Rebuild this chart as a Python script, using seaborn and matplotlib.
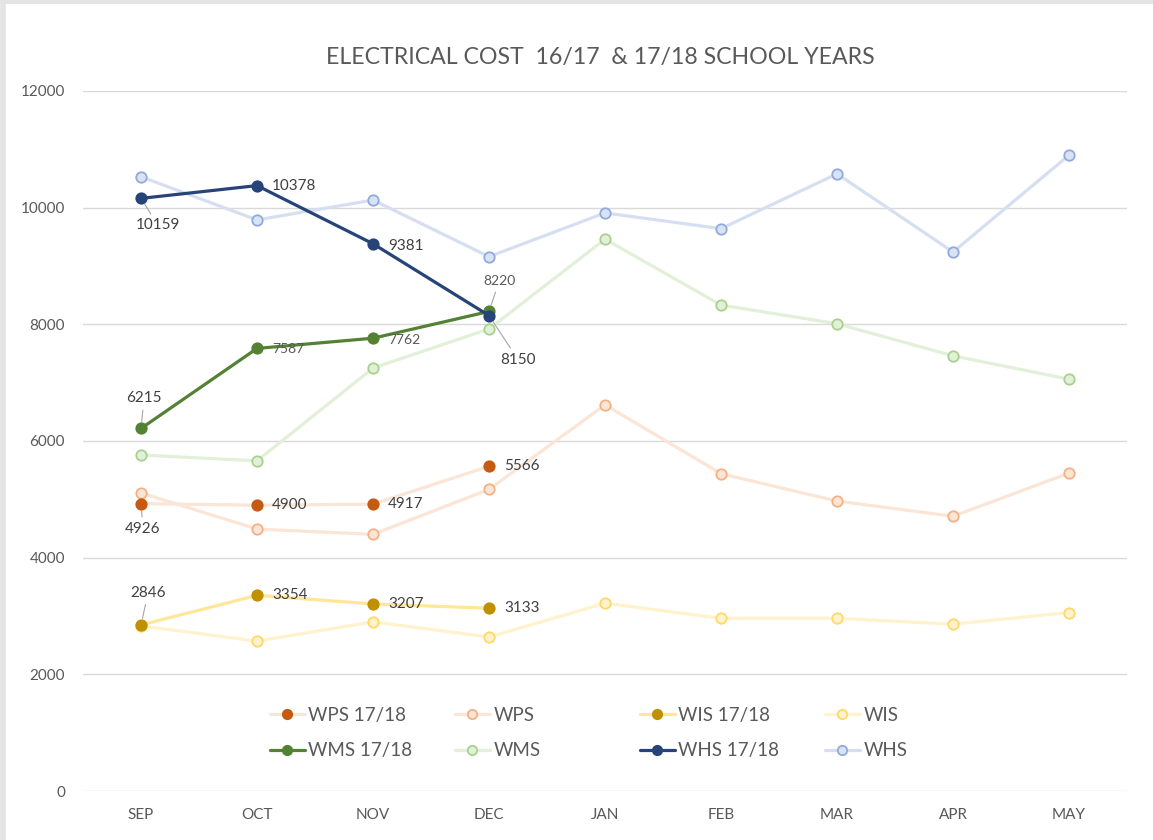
import numpy as np
import pandas as pd
import matplotlib
matplotlib.use("Agg")
import matplotlib.pyplot as plt
import seaborn as sns

months = ['SEP', 'OCT', 'NOV', 'DEC', 'JAN', 'FEB', 'MAR', 'APR', 'MAY']

# 16/17 school year
whs_1617 = [10530, 9790, 10130, 9160, 9910, 9640, 10580, 9240, 10900]
wms_1617 = [5760, 5660, 7250, 7920, 9460, 8330, 8010, 7460, 7060]
wps_1617 = [5110, 4490, 4400, 5170, 6620, 5440, 4970, 4710, 5450]
wis_1617 = [2830, 2570, 2900, 2640, 3220, 2960, 2960, 2860, 3060]

# 17/18 school year (labelled values)
whs_1718 = [10159, 10378, 9381, 8150]
wms_1718 = [6215, 7587, 7762, 8220]
wps_1718 = [4926, 4900, 4917, 5566]
wis_1718 = [2846, 3354, 3207, 3133]

sns.set_theme(style="white")
plt.rcParams['font.family'] = ['Lato', 'DejaVu Sans']

fig = plt.figure(figsize=(11.53, 8.4), dpi=100)
ax = fig.add_axes([0.072, 0.0583, 0.9055, 0.8334])

x_all = np.arange(len(months))
x_cur = x_all[:len(whs_1718)]

# style per series: line colour, marker face, marker edge
styles = {
    'WHS': ('#D6DFF2', '#DAE3F3', '#8FAADC'),
    'WMS': ('#E2F0D9', '#E2F0D9', '#A9D18E'),
    'WPS': ('#FBE5D6', '#FBE5D6', '#F4B183'),
    'WIS': ('#FFF2CC', '#FFF2CC', '#FFD966'),
    'WHS 17/18': ('#264478', '#264478', '#264478'),
    'WMS 17/18': ('#548235', '#548235', '#548235'),
    'WPS 17/18': ('#FBE5D6', '#C55A11', '#C55A11'),
    'WIS 17/18': ('#FFE699', '#BF9000', '#BF9000'),
}

series = [
    ('WHS', x_all, whs_1617), ('WMS', x_all, wms_1617),
    ('WPS', x_all, wps_1617), ('WIS', x_all, wis_1617),
    ('WPS 17/18', x_cur, wps_1718), ('WIS 17/18', x_cur, wis_1718),
    ('WMS 17/18', x_cur, wms_1718), ('WHS 17/18', x_cur, whs_1718),
]

handles = {}
for i, (name, xs, ys) in enumerate(series):
    lc, mf, me = styles[name]
    df = pd.DataFrame({'x': xs, 'y': ys})
    sns.lineplot(data=df, x='x', y='y', ax=ax, color=lc, lw=2.3,
                 marker='o', markersize=7.5, markerfacecolor=mf,
                 markeredgecolor=me, markeredgewidth=1.3, zorder=3 + i)
    handles[name] = ax.lines[-1]

# data labels
lab_col = '#404040'
def label(x, y, txt, dx, dy, ha='left', va='center', size=11, leader=False, col=lab_col):
    kw = {}
    if leader:
        kw['arrowprops'] = dict(arrowstyle='-', color='#A6A6A6', lw=0.8,
                                shrinkA=1, shrinkB=5)
    ax.annotate(txt, (x, y), xytext=(dx, dy), textcoords='offset pixels',
                ha=ha, va=va, fontsize=size, color=col, zorder=20, **kw)

label(0, whs_1718[0], str(whs_1718[0]), 17, -27, ha='center', leader=True)
label(1, whs_1718[1], str(whs_1718[1]), 15, 0)
label(2, whs_1718[2], str(whs_1718[2]), 15, -2)
label(3, whs_1718[3], str(whs_1718[3]), 29, -44, ha='center', leader=True)

label(0, wms_1718[0], str(wms_1718[0]), 3, 30, ha='center', leader=True)
label(1, wms_1718[1], str(wms_1718[1]), 15, -1, size=10, col='#595959')
label(2, wms_1718[2], str(wms_1718[2]), 15, -2, size=10, col='#595959')
label(3, wms_1718[3], str(wms_1718[3]), 10, 30, ha='center', size=10,
      col='#595959', leader=True)

label(0, wps_1718[0], str(wps_1718[0]), 2, -25, ha='center', leader=True)
for k in range(1, 4):
    label(k, wps_1718[k], str(wps_1718[k]), 15, 0)

label(0, wis_1718[0], str(wis_1718[0]), 7, 32, ha='center', leader=True)
for k in range(1, 4):
    label(k, wis_1718[k], str(wis_1718[k]), 15, 0)

ax.set_xlim(-0.5, len(months) - 0.5)
ax.set_ylim(0, 12000)
ax.set_yticks(range(0, 12001, 2000))
ax.set_xticks(x_all)
ax.set_xticklabels(months)
ax.tick_params(axis='both', colors='#595959', labelsize=11, length=0)
ax.tick_params(axis='y', pad=13)
ax.tick_params(axis='x', pad=12)
ax.set_xlabel('')
ax.set_ylabel('')
ax.grid(axis='y', color='#D9D9D9', lw=1)
for s in ax.spines.values():
    s.set_visible(False)

fig.text(0.521, 0.932, 'ELECTRICAL COST  16/17  & 17/18 SCHOOL YEARS',
         ha='center', va='center', fontsize=16.7, color='#595959')

# legend, four fixed-width columns
cols = [['WPS 17/18', 'WMS 17/18'], ['WPS', 'WMS'],
        ['WIS 17/18', 'WHS 17/18'], ['WIS', 'WHS']]
col_x = [270, 455, 640, 825]
for cx, names in zip(col_x, cols):
    leg = fig.legend([handles[n] for n in names], names,
                     loc='upper left', bbox_to_anchor=(cx / 1153, 1 - 707 / 840),
                     frameon=False, fontsize=13.5, handlelength=1.85,
                     handletextpad=0.2, labelspacing=0.97, borderpad=0,
                     borderaxespad=0, numpoints=1, markerscale=0.9)
    for t in leg.get_texts():
        t.set_color('#595959')

# faint screenshot frame on left and top
fig.add_artist(plt.Line2D([0.003, 0.003], [0, 1], color='#E4E4E4', lw=4))
fig.add_artist(plt.Line2D([0, 1], [0.998, 0.998], color='#E4E4E4', lw=3))

fig.savefig('out.png', dpi=100, facecolor='white')
